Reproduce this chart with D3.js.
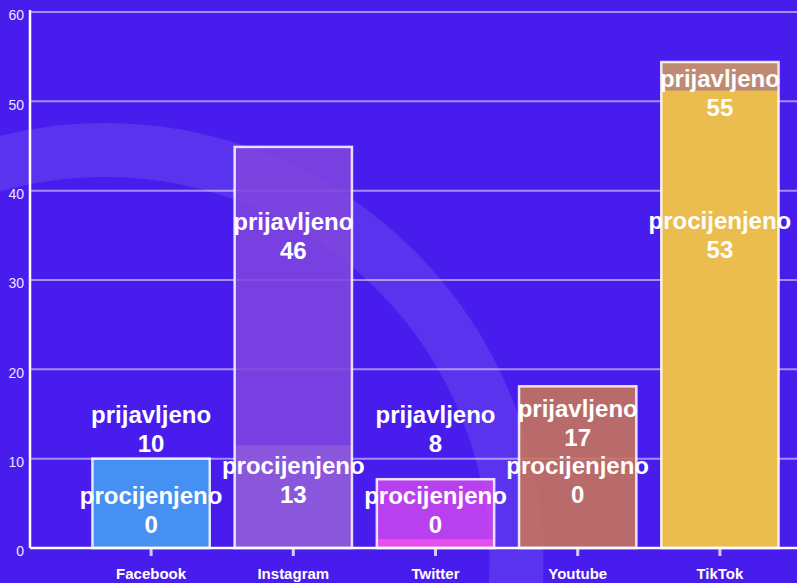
<!DOCTYPE html>
<html>
<head>
<meta charset="utf-8">
<script src="https://cdn.jsdelivr.net/npm/d3@7"></script>
<style>
  html, body { margin: 0; padding: 0; background: #471ced; overflow: hidden; }
  svg { display: block; font-family: "Liberation Sans", Arial, Helvetica, sans-serif; }
</style>
</head>
<body>
<div class="chart"></div>
<script>
'use strict';

// data
var categories = ["Facebook", "Instagram", "Twitter", "Youtube", "TikTok"];
var reported = [10, 44.9, 7.7, 18.1, 54.4];      // prijavljeno, bar heights
var estimated = [0, 11.5, 1, 0, 51.2];           // procijenjeno, bar heights
var reportedText = [10, 46, 8, 17, 55];          // numbers printed in the labels
var estimatedText = [0, 13, 0, 0, 53];
var reportedLabelAt = [10.8, 32.3, 10.8, 11.4, 48.4];  // label baseline, in axis units
var estimatedLabelAt = [1.7, 5.0, 1.7, 5.0, 32.5];
var yTicks = [0, 10, 20, 30, 40, 50, 60];

var reportedColors = ["#46a0f3", "#7f46de", "#c946ef", "#c97558", "#d09a61"];
var estimatedColors = ["#46a0f3", "#8f5bdb", "#f151f3", "#c97558", "#f6c845"];

(function() {
  var width = 797, height = 583;
  var plotLeft = 30, plotBottom = 548, plotTop = 12;

  var svg = d3.select(".chart").append("svg")
      .attr("width", width)
      .attr("height", height);

  svg.append("rect")
      .attr("width", width)
      .attr("height", height)
      .attr("fill", "#471ced");

  // big faint ring in the background
  svg.append("circle")
      .attr("cx", 105)
      .attr("cy", 561.5)
      .attr("r", 411.5)
      .attr("fill", "none")
      .attr("stroke", "#fff")
      .attr("stroke-opacity", 0.1)
      .attr("stroke-width", 54);

  var x = d3.scaleBand()
      .domain(categories)
      .range([80, 791])
      .paddingInner(0.175)
      .paddingOuter(0.0875);

  var y = d3.scaleLinear()
      .domain([0, 60])
      .range([plotBottom, plotTop]);

  // grid
  svg.append("g").selectAll("line")
      .data(yTicks.filter(function(d) { return d > 0; }))
    .enter().append("line")
      .attr("x1", plotLeft)
      .attr("x2", width)
      .attr("y1", function(d) { return y(d); })
      .attr("y2", function(d) { return y(d); })
      .attr("stroke", "#fff")
      .attr("stroke-opacity", 0.5)
      .attr("stroke-width", 2);

  var rows = categories.map(function(c, i) {
    return {
      name: c,
      reported: reported[i], estimated: estimated[i],
      reportedText: reportedText[i], estimatedText: estimatedText[i],
      reportedAt: reportedLabelAt[i], estimatedAt: estimatedLabelAt[i],
      rc: reportedColors[i], ec: estimatedColors[i]
    };
  });

  var bars = svg.append("g").selectAll("g")
      .data(rows)
    .enter().append("g");

  bars.append("rect")
      .attr("x", function(d) { return x(d.name); })
      .attr("width", x.bandwidth())
      .attr("y", function(d) { return y(d.reported); })
      .attr("height", function(d) { return y(0) - y(d.reported); })
      .attr("fill", function(d) { return d.rc; })
      .attr("fill-opacity", 0.88);

  bars.append("rect")
      .attr("x", function(d) { return x(d.name); })
      .attr("width", x.bandwidth())
      .attr("y", function(d) { return y(d.estimated); })
      .attr("height", function(d) { return y(0) - y(d.estimated); })
      .attr("fill", function(d) { return d.ec; })
      .attr("fill-opacity", 0.8);

  bars.append("rect")
      .attr("x", function(d) { return x(d.name); })
      .attr("width", x.bandwidth())
      .attr("y", function(d) { return y(d.reported); })
      .attr("height", function(d) { return y(0) - y(d.reported); })
      .attr("fill", "none")
      .attr("stroke", "#fff")
      .attr("stroke-opacity", 0.85)
      .attr("stroke-width", 2.5);

  // axes
  var yAxis = svg.append("g")
      .attr("transform", "translate(" + plotLeft + ",0)")
      .call(d3.axisLeft(y).tickValues(yTicks).tickSize(0).tickPadding(6));
  yAxis.select(".domain").remove();
  yAxis.selectAll("text")
      .attr("fill", "#ece8ff")
      .style("font-size", "14px")
      .attr("dy", "0.55em");

  var xAxis = svg.append("g")
      .attr("transform", "translate(0," + plotBottom + ")")
      .call(d3.axisBottom(x).tickSize(8).tickPadding(12));
  xAxis.select(".domain").remove();
  xAxis.selectAll(".tick line")
      .attr("stroke", "#d4ccfb")
      .attr("stroke-width", 3);
  xAxis.selectAll("text")
      .attr("fill", "#fff")
      .style("font-size", "15px")
      .style("font-weight", "bold");

  svg.append("line")
      .attr("x1", plotLeft).attr("x2", plotLeft)
      .attr("y1", plotTop - 2).attr("y2", plotBottom)
      .attr("stroke", "#fff")
      .attr("stroke-width", 2.5);
  svg.append("line")
      .attr("x1", plotLeft).attr("x2", width)
      .attr("y1", plotBottom).attr("y2", plotBottom)
      .attr("stroke", "#fff")
      .attr("stroke-width", 2.5);

  // two-line value labels
  function addLabel(sel, word, valueKey, atKey) {
    var t = sel.append("text")
        .attr("text-anchor", "middle")
        .attr("fill", "#fff")
        .style("font-size", "24px")
        .style("font-weight", "bold");
    t.append("tspan")
        .attr("x", function(d) { return x(d.name) + x.bandwidth() / 2; })
        .attr("y", function(d) { return y(d[atKey]) - 29; })
        .text(word);
    t.append("tspan")
        .attr("x", function(d) { return x(d.name) + x.bandwidth() / 2; })
        .attr("y", function(d) { return y(d[atKey]); })
        .text(function(d) { return d[valueKey]; });
  }

  var labels = svg.append("g").selectAll("g")
      .data(rows)
    .enter().append("g");
  addLabel(labels, "prijavljeno", "reportedText", "reportedAt");
  addLabel(labels, "procijenjeno", "estimatedText", "estimatedAt");
})();
</script>
</body>
</html>
